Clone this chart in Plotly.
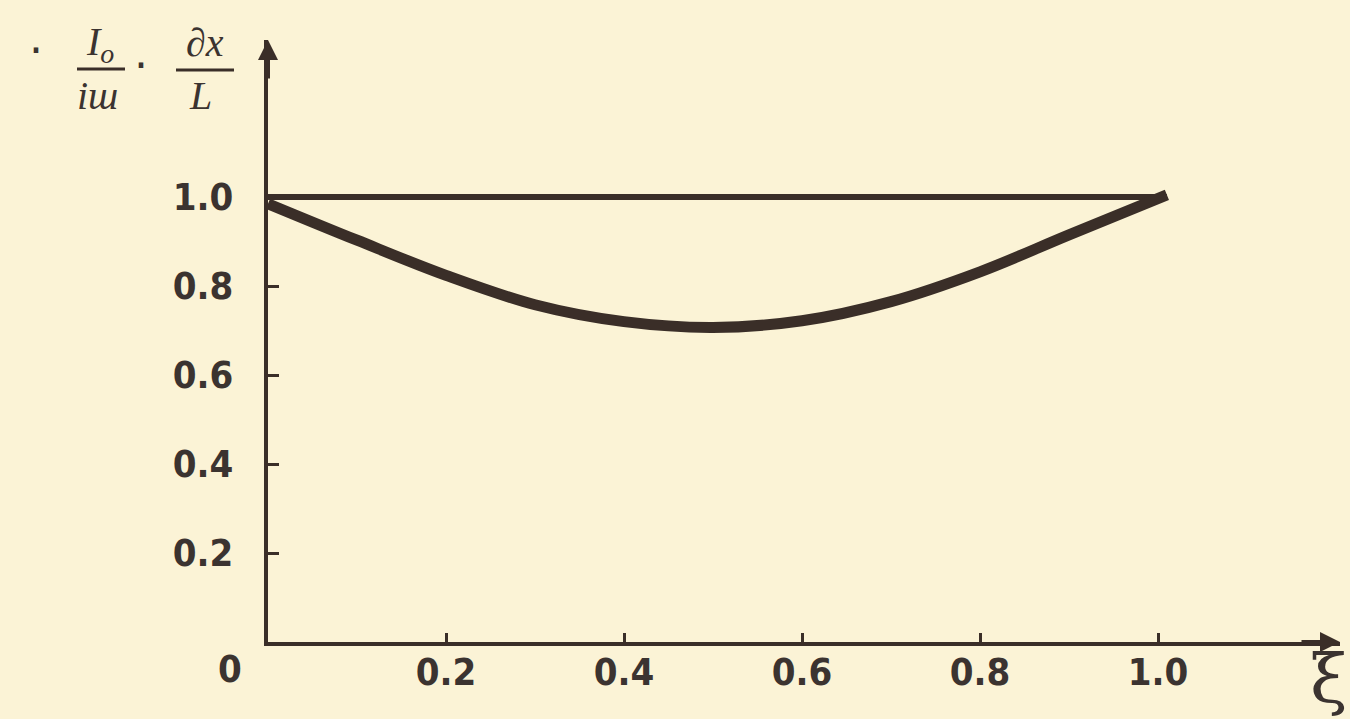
import plotly.graph_objects as go

# data
xi = [0.0, 0.1, 0.2, 0.3, 0.4, 0.5, 0.6, 0.7, 0.8, 0.9, 1.01]
ratio = [0.985, 0.903, 0.824, 0.758, 0.72, 0.707, 0.722, 0.765, 0.832, 0.915, 1.005]
xi_ref = [0.0, 1.01]
ref_level = [1.0, 1.0]

x_ticks = [0.2, 0.4, 0.6, 0.8, 1.0]
x_tick_labels = ["0.2", "0.4", "0.6", "0.8", "1.0"]
y_ticks = [0.2, 0.4, 0.6, 0.8, 1.0]
y_tick_labels = ["0.2", "0.4", "0.6", "0.8", "1.0"]

INK = "#3a2e28"
TXT = "#3b3330"
PAPER = "#fbf3d6"
TICKFONT = dict(family="Liberation Sans Narrow, DejaVu Sans Condensed, Arial Narrow, sans-serif",
                size=38, color=TXT, weight="bold")

W, H = 1350, 719
ML, MR, MT, MB = 268, 10, 40, 77
PW, PH = W - ML - MR, H - MT - MB
X_MAX = 1.2045
Y_MAX = 1.353

fig = go.Figure()
fig.add_trace(go.Scatter(x=xi_ref, y=ref_level, mode="lines",
                         line=dict(color=INK, width=6), hoverinfo="skip", showlegend=False))
fig.add_trace(go.Scatter(x=xi, y=ratio, mode="lines", line_shape="spline",
                         line=dict(color=INK, width=11), hoverinfo="skip", showlegend=False))

fig.update_layout(
    width=W, height=H,
    paper_bgcolor=PAPER, plot_bgcolor=PAPER,
    margin=dict(l=ML, r=MR, t=MT, b=MB),
    showlegend=False,
    xaxis=dict(range=[0, X_MAX], showgrid=False, zeroline=False,
               showline=True, linewidth=4, linecolor=INK,
               tickmode="array", tickvals=x_ticks, ticktext=x_tick_labels,
               ticks="inside", ticklen=9, tickwidth=3, tickcolor=INK,
               tickfont=TICKFONT, ticklabelstandoff=-7),
    yaxis=dict(range=[0, Y_MAX], showgrid=False, zeroline=False,
               showline=True, linewidth=4, linecolor=INK,
               tickmode="array", tickvals=y_ticks, ticktext=y_tick_labels,
               ticks="inside", ticklen=11, tickwidth=3, tickcolor=INK,
               tickfont=TICKFONT, ticklabelstandoff=23),
)

# axis arrowheads
fig.add_annotation(x=0, y=Y_MAX, xref="x", yref="y", ax=0, ay=40, text="",
                   showarrow=True, arrowhead=2, arrowsize=1, arrowwidth=4, arrowcolor=INK, standoff=0)
fig.add_annotation(x=X_MAX, y=0, xref="x", yref="y", ax=-40, ay=0, text="",
                   showarrow=True, arrowhead=2, arrowsize=1, arrowwidth=4, arrowcolor=INK, standoff=0)

# origin label
fig.add_annotation(x=0, y=0, xref="x", yref="y", xshift=-38, yshift=-27, text="0",
                   showarrow=False, font=TICKFONT)


def px(xp):
    return (xp - ML) / PW


def py(yp):
    return (H - MB - yp) / PH


def label(xp, yp, text, font):
    fig.add_annotation(x=px(xp), y=py(yp), xref="paper", yref="paper", text=text,
                       xanchor="center", yanchor="middle", showarrow=False, font=font)


# axis name xi
label(1328, 678, "ξ", dict(family="DejaVu Serif, serif", size=68, color=TXT))

# y-axis title: · Io/iш · ∂x/L
TF = dict(family="Liberation Serif, DejaVu Serif, serif", size=40, color=TXT, style="italic")
DOT = dict(family="DejaVu Sans", size=44, color=TXT)
label(36, 50, "·", DOT)
label(100, 44, "I<sub>o</sub>", TF)
label(98, 95, "iш", TF)
label(141, 66, "·", DOT)
label(205, 42, "∂x", TF)
label(200, 95, "L", TF)
fig.add_shape(type="line", xref="paper", yref="paper", x0=px(77), x1=px(125), y0=py(69), y1=py(69),
              line=dict(color=INK, width=3))
fig.add_shape(type="line", xref="paper", yref="paper", x0=px(176), x1=px(234), y0=py(70), y1=py(70),
              line=dict(color=INK, width=3))

fig.write_html("out.html", config={"displayModeBar": False},
               post_script="document.body.style.margin='0';document.body.style.overflow='hidden';")
